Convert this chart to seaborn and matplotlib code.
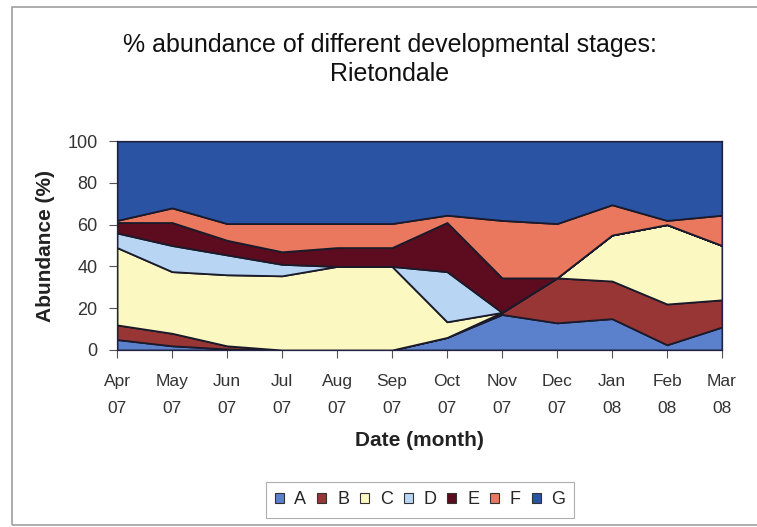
import numpy as np
import matplotlib
matplotlib.use("Agg")
import matplotlib.pyplot as plt
from matplotlib.patches import Rectangle, Patch
import seaborn as sns

months = ["Apr\n07", "May\n07", "Jun\n07", "Jul\n07", "Aug\n07", "Sep\n07",
          "Oct\n07", "Nov\n07", "Dec\n07", "Jan\n08", "Feb\n08", "Mar\n08"]
stages = ["A", "B", "C", "D", "E", "F", "G"]

A = [5, 2, 0.5, 0, 0, 0, 6, 17, 13, 15, 2.5, 11]
B = [7, 6, 1.5, 0, 0, 0, 0, 1, 21.5, 18, 19.5, 13]
C = [37, 29.5, 34, 35.5, 40, 40, 7.5, 0, 0, 22, 38, 26]
D = [7, 12.5, 9.5, 5.5, 0, 0, 24, 0, 0, 0, 0, 0]
E = [5, 11, 7, 6, 9, 9, 23.5, 16.5, 0, 0, 0, 0]
F = [1, 7, 8, 13.5, 11.5, 11.5, 3.5, 27.5, 26, 14.5, 2, 14.5]
G = [38, 32, 39.5, 39.5, 39.5, 39.5, 35.5, 38, 39.5, 30.5, 38, 35.5]

colors = ["#5b80cc", "#983636", "#fbf8c2", "#b8d6f4", "#5c0c1e", "#e9785f", "#2a53a4"]

sns.set_theme(style="white")
plt.rcParams['font.family'] = ['Liberation Sans', 'DejaVu Sans']

W, H = 757, 527
fig = plt.figure(figsize=(W / 100, H / 100), dpi=100)
fig.patch.set_facecolor("white")

# chart-area border
fig.patches.append(Rectangle((12 / W, 2 / H), 1.2, (525 - 7) / H, transform=fig.transFigure,
                             fill=False, edgecolor="#a0a0a0", linewidth=1.2))

L, R, T, Bt = 117, 722, 141, 350
ax = fig.add_axes([L / W, 1 - Bt / H, (R - L) / W, (Bt - T) / H])

x = np.arange(len(months))
ax.stackplot(x, A, B, C, D, E, F, G, colors=colors, edgecolor="#1a1a2a", linewidth=1.3)

ax.set_xlim(0, len(months) - 1)
ax.set_ylim(0, 100)
ax.set_yticks([0, 20, 40, 60, 80, 100])
ax.set_xticks(x)
ax.set_xticklabels(months, fontsize=12.5, color="#333333", linespacing=2.05)
ax.tick_params(axis="both", which="both", direction="out", length=6, width=0.8,
               color="#555555", bottom=True, left=True)
ax.tick_params(axis="y", labelsize=13, labelcolor="#333333", pad=8)
ax.tick_params(axis="x", pad=11)
for s in ax.spines.values():
    s.set_color("#222244")
    s.set_linewidth(0.9)

ax.set_ylabel("Abundance (%)", fontsize=15, fontweight="bold", color="#222222", labelpad=9)
ax.set_xlabel("Date (month)", fontsize=15, fontweight="bold", color="#222222", labelpad=11)

fig.text(390 / W, 1 - 45 / H, "% abundance of different developmental stages:",
         ha="center", va="center", fontsize=18, color="#111111")
fig.text(390 / W, 1 - 74 / H, "Rietondale", ha="center", va="center",
         fontsize=18, color="#111111")

handles = [Patch(facecolor=c, edgecolor="#333333", linewidth=0.8) for c in colors]
leg = fig.legend(handles, stages, loc="center", bbox_to_anchor=(420 / W, 1 - 500 / H),
                 ncol=7, frameon=True, fontsize=13, handlelength=0.5, handleheight=0.5,
                 handletextpad=0.6, columnspacing=0.6, borderpad=0.5)
leg.get_frame().set_edgecolor("#999999")
leg.get_frame().set_linewidth(0.8)
leg.get_frame().set_boxstyle("square", pad=0)

fig.savefig("out.png", dpi=100, facecolor="white")
